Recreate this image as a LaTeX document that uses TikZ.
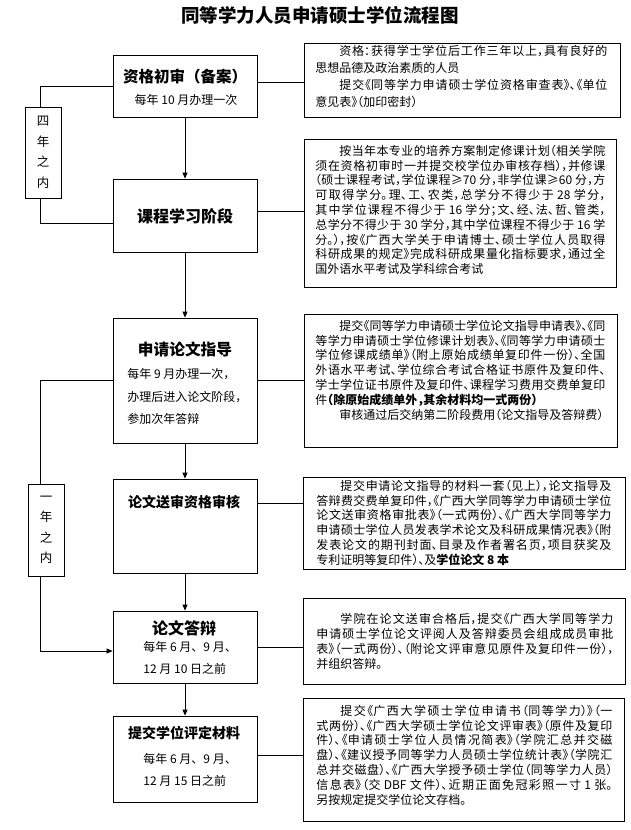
\documentclass[tikz,border=0pt]{standalone}
\usepackage{fontspec}
\setmainfont{Noto Sans CJK SC}
\newfontfamily\notefont{Noto Sans CJK SC}[RawFeature=+halt]
\usetikzlibrary{arrows.meta,positioning}
\XeTeXlinebreaklocale "zh"
\XeTeXlinebreakskip=0pt plus 3pt minus 0.6pt

\begin{document}
\begin{tikzpicture}[
    x=1pt, y=-1pt, line width=0.8pt,
    stage/.style={draw, minimum width=144pt, inner sep=0pt},
    note/.style={draw, anchor=north west, inner sep=0pt},
    notetext/.style={anchor=north west, inner sep=0pt, align=justify, font=\notefont\fontsize{12}{#1}\selectfont},
    notetext/.default=14.8,
    head/.style={font=\bfseries\fontsize{#1}{#1}\selectfont, inner sep=0pt},
    sub/.style={font=\fontsize{12}{12}\selectfont, inner sep=0pt},
    yearbox/.style={draw, minimum width=36pt, inner sep=0pt, align=center, font=\fontsize{12.5}{20.5}\selectfont},
    flow/.style={-{Triangle[length=6pt,width=5pt]}}
]
    \useasboundingbox (0,0) rectangle (630,830);

    % Title
    \node[head=18.5] (title) at (320,15) {同等学力人员申请硕士学位流程图};

    % Stages on the left
    \node[stage, minimum height=62pt] (b1) at (185,86) {};
    \node[head=15.5] (h1) at (185,77) {资格初审（备案）};
    \node[sub] (s1) at (186,100) {每年 10 月办理一次};

    \node[stage, minimum height=73pt] (b2) at (185,215.5) {};
    \node[head=16] (h2) at (185,216) {课程学习阶段};

    \node[stage, minimum height=125pt] (b3) at (185,380.5) {};
    \node[head=15.7] (h3) at (185,349) {申请论文指导};
    \node[sub, anchor=west] (s3a) at (127,374) {每年 9 月办理一次，};
    \node[sub, anchor=west] (s3b) at (127,397) {办理后进入论文阶段，};
    \node[sub, anchor=west] (s3c) at (127,419) {参加次年答辩};

    \node[stage, minimum height=94pt] (b4) at (185,526) {};
    \node[head=14] (h4) at (184,502) {论文送审资格审核};

    \node[stage, minimum height=72pt] (b5) at (185,647) {};
    \node[head=16] (h5) at (184,628) {论文答辩};
    \node[sub, anchor=west] (s5a) at (143,647) {每年 6 月、9 月、};
    \node[sub, anchor=west] (s5b) at (143,669) {12 月 10 日之前};

    \node[stage, minimum height=86pt] (b6) at (185,759) {};
    \node[head=14] (h6) at (184,733) {提交学位评定材料};
    \node[sub, anchor=west] (s6a) at (143,759) {每年 6 月、9 月、};
    \node[sub, anchor=west] (s6b) at (143,781) {12 月 15 日之前};

    % Time limits
    \node[yearbox, minimum height=91pt] (yr4) at (43,152.5) {四\\年\\之\\内};
    \node[yearbox, minimum height=92pt] (yr1) at (46,530) {一\\年\\之\\内};
    \coordinate (rail) at (40,0);

    % Notes on the right
    \node[note, minimum width=316pt, minimum height=74pt] (r1) at (304,43) {};
    \node[notetext=17, text width=292pt] (t1) at (315,44.7) {%
        \hspace*{2em}资格：获得学士学位后工作三年以上，具有良好的\break
        思想品德及政治素质的人员\par
        \hspace*{2em}提交《同等学力申请硕士学位资格审查表》、《单位\break
        意见表》（加印密封）};

    \node[note, minimum width=312pt, minimum height=148pt] (r2) at (304,139) {};
    \node[notetext, text width=290pt] (t2) at (315,144.7) {%
        \hspace*{2em}按当年本专业的培养方案制定修课计划（相关学院\break
        须在资格初审时一并提交校学位办审核存档），并修课\break
        （硕士课程考试，学位课程≥70 分，非学位课≥60 分，方\break
        可取得学分。理、工、农类，总学分不得少于 28 学分，\break
        其中学位课程不得少于 16 学分；文、经、法、哲、管类，\break
        总学分不得少于 30 学分，其中学位课程不得少于 16 学\break
        分。），按《广西大学关于申请博士、硕士学位人员取得\break
        科研成果的规定》完成科研成果量化指标要求，通过全\break
        国外语水平考试及学科综合考试};

    \node[note, minimum width=313pt, minimum height=133pt] (r3) at (304,314) {};
    \node[notetext, text width=290pt] (t3) at (315,319.7) {%
        \hspace*{2em}提交《同等学力申请硕士学位论文指导申请表》、《同\break
        等学力申请硕士学位修课计划表》、《同等学力申请硕士\break
        学位修课成绩单》（附上原始成绩单复印件一份）、全国\break
        外语水平考试、学位综合考试合格证书原件及复印件、\break
        学士学位证书原件及复印件、课程学习费用交费单复印\break
        件\textbf{（除原始成绩单外，其余材料均一式两份）}\par
        \hspace*{2em}审核通过后交纳第二阶段费用（论文指导及答辩费）};

    \node[note, minimum width=322pt, minimum height=92pt] (r4) at (303,477) {};
    \node[notetext, text width=295pt] (t4) at (316,479.7) {%
        \hspace*{2em}提交申请论文指导的材料一套（见上），论文指导及\break
        答辩费交费单复印件，《广西大学同等学力申请硕士学位\break
        论文送审资格审批表》（一式两份）、《广西大学同等学力\break
        申请硕士学位人员发表学术论文及科研成果情况表》（附\break
        发表论文的期刊封面、目录及作者署名页，项目获奖及\break
        专利证明等复印件）、及\textbf{学位论文 8 本}};

    \node[note, minimum width=322pt, minimum height=86pt] (r5) at (303,598) {};
    \node[notetext=15, text width=297pt] (t5) at (316,612.7) {%
        \hspace*{2em}学院在论文送审合格后，提交《广西大学同等学力\break
        申请硕士学位论文评阅人及答辩委员会组成成员审批\break
        表》（一式两份）、（附论文评审意见原件及复印件一份），\break
        并组织答辩。};

    \node[note, minimum width=321pt, minimum height=123pt] (r6) at (303,698) {};
    \node[notetext, text width=296pt] (t6) at (316,704.7) {%
        \hspace*{2em}提交《广西大学硕士学位申请书（同等学力）》（一\break
        式两份）、《广西大学硕士学位论文评审表》（原件及复印\break
        件）、《申请硕士学位人员情况简表》（学院汇总并交磁\break
        盘）、《建议授予同等学力人员硕士学位统计表》（学院汇\break
        总并交磁盘）、《广西大学授予硕士学位（同等学力人员）\break
        信息表》（交 DBF 文件）、近期正面免冠彩照一寸 1 张。\break
        另按规定提交学位论文存档。};

    % Main flow
    \draw[flow] (b1) -- (b2);
    \draw[flow] (b2) -- (b3);
    \draw[flow] (b3) -- (b4);
    \draw[flow] (b4) -- (b5);
    \draw[flow] (b5) -- (b6);

    % Time limit brackets
    \draw (b1.west) -| (rail |- yr4.north);
    \draw (rail |- yr4.south) |- ([yshift=-7.5pt]b2.west);
    \draw (b3.west) -| (rail |- yr1.north);
    \draw[flow] (rail |- yr1.south) |- ([yshift=-4pt]b5.west);

    % Links to notes
    \draw ([yshift=4pt]b1.east) -- ([yshift=4pt]b1.east -| r1.west);
    \draw ([yshift=4.5pt]b2.east) -- ([yshift=4.5pt]b2.east -| r2.west);
    \draw (b3.east) -- (b3.east -| r3.west);
    \draw ([yshift=23pt]b4.east) -- ([yshift=23pt]b4.east -| r4.west);
    \draw (b5.east) -- (b5.east -| r5.west);
    \draw ([yshift=4pt]b6.east) -- ([yshift=4pt]b6.east -| r6.west);
\end{tikzpicture}
\end{document}
